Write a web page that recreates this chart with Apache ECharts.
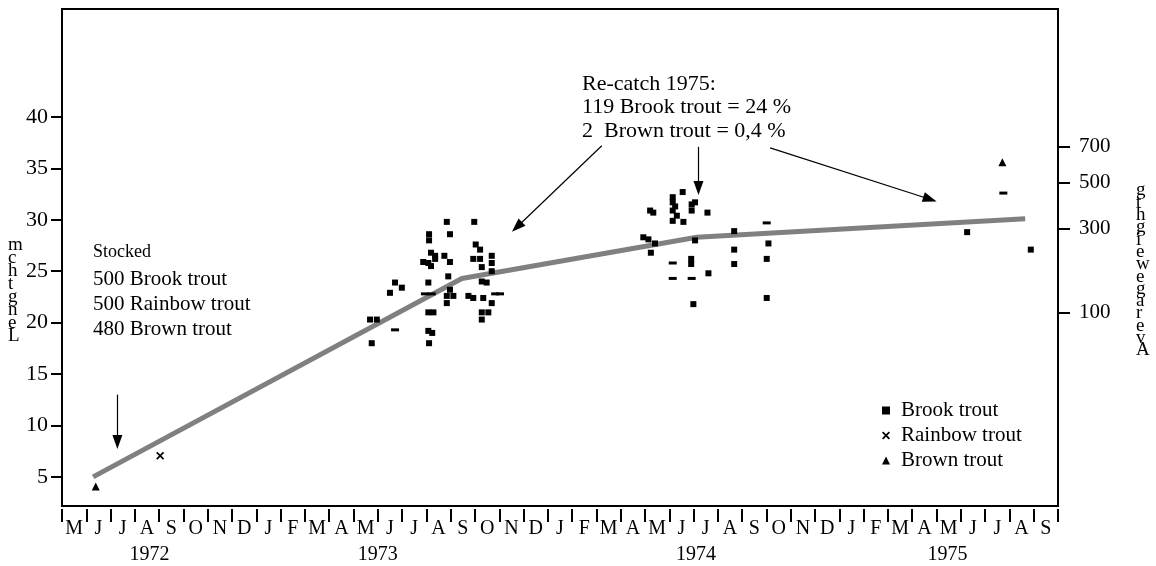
<!DOCTYPE html>
<html>
<head>
<meta charset="utf-8">
<script src="https://cdn.jsdelivr.net/npm/echarts@6.0.0/dist/echarts.min.js"></script>
<style>
  html, body { margin: 0; padding: 0; background: #fff; }
  #main { width: 1156px; height: 566px; }
</style>
</head>
<body>
<div id="main"></div>
<script>
// x = months since 1 May 1972, y = length in cm
var monthLetters = ['M','J','J','A','S','O','N','D',
    'J','F','M','A','M','J','J','A','S','O','N','D',
    'J','F','M','A','M','J','J','A','S','O','N','D',
    'J','F','M','A','M','J','J','A','S'];
var years = ['1972', '1973', '1974', '1975'];
var yearPos = [3.6, 13.0, 26.1, 36.45];
var lengthTicks = [5, 10, 15, 20, 25, 30, 35, 40];
// weight ticks (g) and the length (cm) they sit at on the right axis
var weightTicks = [100, 300, 500, 700];
var weightAtLength = [20.96, 29.15, 33.64, 37.11];

// growth curve
var growth = [[1.28, 5.0], [16.46, 24.3], [26.13, 28.3], [39.65, 30.1]];

// Brook trout catches
var brookSquares = [
    [15.84, 29.8], [16.97, 29.8], [15.11, 28.6], [15.11, 28.0], [15.97, 28.6], [17.03, 27.6], [17.21, 27.1],
    [15.19, 26.8], [15.36, 26.5], [15.74, 26.5], [14.87, 25.9], [15.08, 25.8], [15.36, 26.2], [15.97, 25.9],
    [16.93, 26.2], [17.21, 26.2], [17.69, 26.5], [17.69, 25.8], [15.19, 25.5], [17.28, 25.4], [17.69, 25.0],
    [15.90, 24.5], [17.28, 24.0], [17.48, 23.9], [13.71, 23.9], [13.99, 23.4], [13.50, 22.9], [15.08, 23.9],
    [15.97, 23.2], [16.11, 22.6], [15.84, 22.6], [16.73, 22.6], [16.93, 22.4], [17.34, 22.4], [15.84, 21.9],
    [17.69, 21.9], [15.08, 21.0], [15.29, 21.0], [17.28, 21.0], [17.55, 21.0], [17.28, 20.3], [12.68, 20.3],
    [12.96, 20.3], [15.08, 19.2], [15.24, 19.0], [12.75, 18.0], [15.11, 18.0],
    [25.55, 32.7], [25.14, 32.2], [25.14, 31.7], [25.24, 31.3], [25.14, 30.9], [25.31, 30.4], [25.14, 29.9],
    [25.58, 29.8], [25.92, 31.5], [26.06, 31.7], [25.92, 30.9], [26.57, 30.7], [24.21, 30.9], [24.34, 30.7],
    [23.93, 28.3], [24.14, 28.1], [24.41, 27.7], [24.24, 26.8], [26.06, 28.0], [27.67, 28.9], [27.67, 27.1],
    [27.67, 25.7], [29.08, 27.7], [29.01, 26.2], [29.01, 22.4], [25.90, 26.2], [25.90, 25.7], [26.61, 24.8],
    [25.99, 21.8], [37.26, 28.8], [39.88, 27.1]
];
var brookDashes = [
    [14.94, 22.8], [15.22, 22.8], [13.71, 19.3], [17.83, 22.8], [18.03, 22.8],
    [25.14, 25.8], [25.14, 24.3], [25.92, 24.3], [29.01, 29.7], [38.75, 32.6]
];
var rainbow = [[4.04, 7.06]];
var brown = [[1.39, 4.06], [38.71, 35.6]];

// arrows [from, to]
var arrows = [
    [[2.28, 13.0], [2.28, 8.4]],
    [[22.22, 37.2], [18.73, 29.3]],
    [[26.20, 37.1], [26.20, 33.1]],
    [[29.15, 37.0], [35.73, 32.0]]
];

var serif = 'Liberation Serif';
var crossPath = 'path://M0,1.5L1.5,0L5,3.5L8.5,0L10,1.5L6.5,5L10,8.5L8.5,10L5,6.5L1.5,10L0,8.5L3.5,5Z';

var myChart = echarts.init(document.getElementById('main'));

var monthCenters = monthLetters.map(function (m, i) { return i + 0.5; });
var monthEdges = [];
for (var i = 0; i <= monthLetters.length; i++) monthEdges.push(i);

var option = {
    animation: false,
    backgroundColor: '#fff',
    textStyle: { fontFamily: serif, color: '#000' },
    grid: {
        left: 62, right: 98, top: 9, bottom: 60,
        show: true, borderColor: '#000', borderWidth: 2
    },
    legend: {
        data: ['Brook trout', 'Rainbow trout', 'Brown trout'],
        orient: 'vertical',
        left: 877, top: 395,
        itemWidth: 8, itemHeight: 8, itemGap: 4,
        textStyle: { fontFamily: serif, fontSize: 21, color: '#000', padding: [0, 0, 0, 6] }
    },
    xAxis: [{
        type: 'value', min: 0, max: monthLetters.length,
        position: 'bottom', offset: 3,
        splitLine: { show: false },
        axisLine: { show: false, onZero: false },
        axisTick: { show: true, length: 13, customValues: monthEdges, lineStyle: { color: '#000', width: 2 } },
        axisLabel: {
            customValues: monthCenters, margin: 10,
            fontFamily: serif, fontSize: 20, color: '#000',
            formatter: function (v) { return monthLetters[Math.floor(v)]; }
        }
    }, {
        type: 'value', min: 0, max: monthLetters.length,
        position: 'bottom', offset: 3,
        splitLine: { show: false },
        axisLine: { show: false, onZero: false },
        axisTick: { show: false },
        axisLabel: {
            customValues: yearPos, margin: 36,
            fontFamily: serif, fontSize: 20, color: '#000',
            formatter: function (v) { return years[yearPos.indexOf(v)]; }
        }
    }],
    yAxis: [{
        type: 'value', min: 2.17, max: 50.5,
        position: 'left',
        splitLine: { show: false },
        axisLine: { show: true, onZero: false, lineStyle: { color: '#000', width: 2 } },
        axisTick: { show: true, length: 11, customValues: lengthTicks, lineStyle: { color: '#000', width: 2 } },
        axisLabel: {
            customValues: lengthTicks, margin: 14,
            fontFamily: serif, fontSize: 22, color: '#000'
        }
    }, {
        type: 'value', min: 2.17, max: 50.5,
        position: 'right',
        splitLine: { show: false },
        axisLine: { show: false, onZero: false },
        axisTick: { show: true, length: 12, customValues: weightAtLength, lineStyle: { color: '#000', width: 2 } },
        axisLabel: {
            customValues: weightAtLength, margin: 21,
            fontFamily: serif, fontSize: 21, color: '#000',
            formatter: function (v) { return String(weightTicks[weightAtLength.indexOf(v)]); }
        }
    }],
    graphic: [
        { type: 'text', left: 8, top: 236, style: { text: 'm\nc\nh\nt\ng\nn\ne\nL', font: '19px ' + serif, lineHeight: 13, fill: '#000' } },
        { type: 'text', left: 1136, top: 181, style: { text: 'g\nt\nh\ng\ni\ne\nw\ne\ng\na\nr\ne\nv\nA', font: '19px ' + serif, lineHeight: 12.3, fill: '#000' } },
        { type: 'text', left: 93, top: 243, style: { text: 'Stocked', font: '18px ' + serif, fill: '#000' } },
        { type: 'text', left: 93, top: 267, style: { text: '500 Brook trout\n500 Rainbow trout\n480 Brown trout', font: '21px ' + serif, lineHeight: 25, fill: '#000' } },
        { type: 'text', left: 582, top: 72, style: { text: 'Re-catch 1975:\n119 Brook trout = 24 %\n2  Brown trout = 0,4 %', font: '22px ' + serif, lineHeight: 23.5, fill: '#000' } }
    ],
    series: [{
        name: 'Growth',
        type: 'line',
        data: growth,
        symbol: 'none',
        lineStyle: { color: '#808080', width: 5 },
        z: 1,
        markLine: {
            silent: true,
            symbol: ['none', 'triangle'],
            symbolSize: [10, 14],
            label: { show: false },
            lineStyle: { color: '#000', width: 1.2, type: 'solid' },
            data: arrows.map(function (a) {
                return [{ coord: a[0] }, { coord: a[1] }];
            })
        }
    }, {
        name: 'Brook trout',
        type: 'scatter',
        data: brookSquares,
        symbol: 'rect',
        symbolSize: 6,
        itemStyle: { color: '#000', opacity: 1 },
        z: 3
    }, {
        name: 'Brook trout',
        type: 'scatter',
        data: brookDashes,
        symbol: 'rect',
        symbolSize: [8, 3],
        itemStyle: { color: '#000', opacity: 1 },
        z: 3
    }, {
        name: 'Rainbow trout',
        type: 'scatter',
        data: rainbow,
        symbol: crossPath,
        symbolSize: 8,
        itemStyle: { color: '#000', opacity: 1 },
        z: 3
    }, {
        name: 'Brown trout',
        type: 'scatter',
        data: brown,
        symbol: 'triangle',
        symbolSize: 8,
        itemStyle: { color: '#000', opacity: 1 },
        z: 3
    }]
};

myChart.setOption(option);
</script>
</body>
</html>
